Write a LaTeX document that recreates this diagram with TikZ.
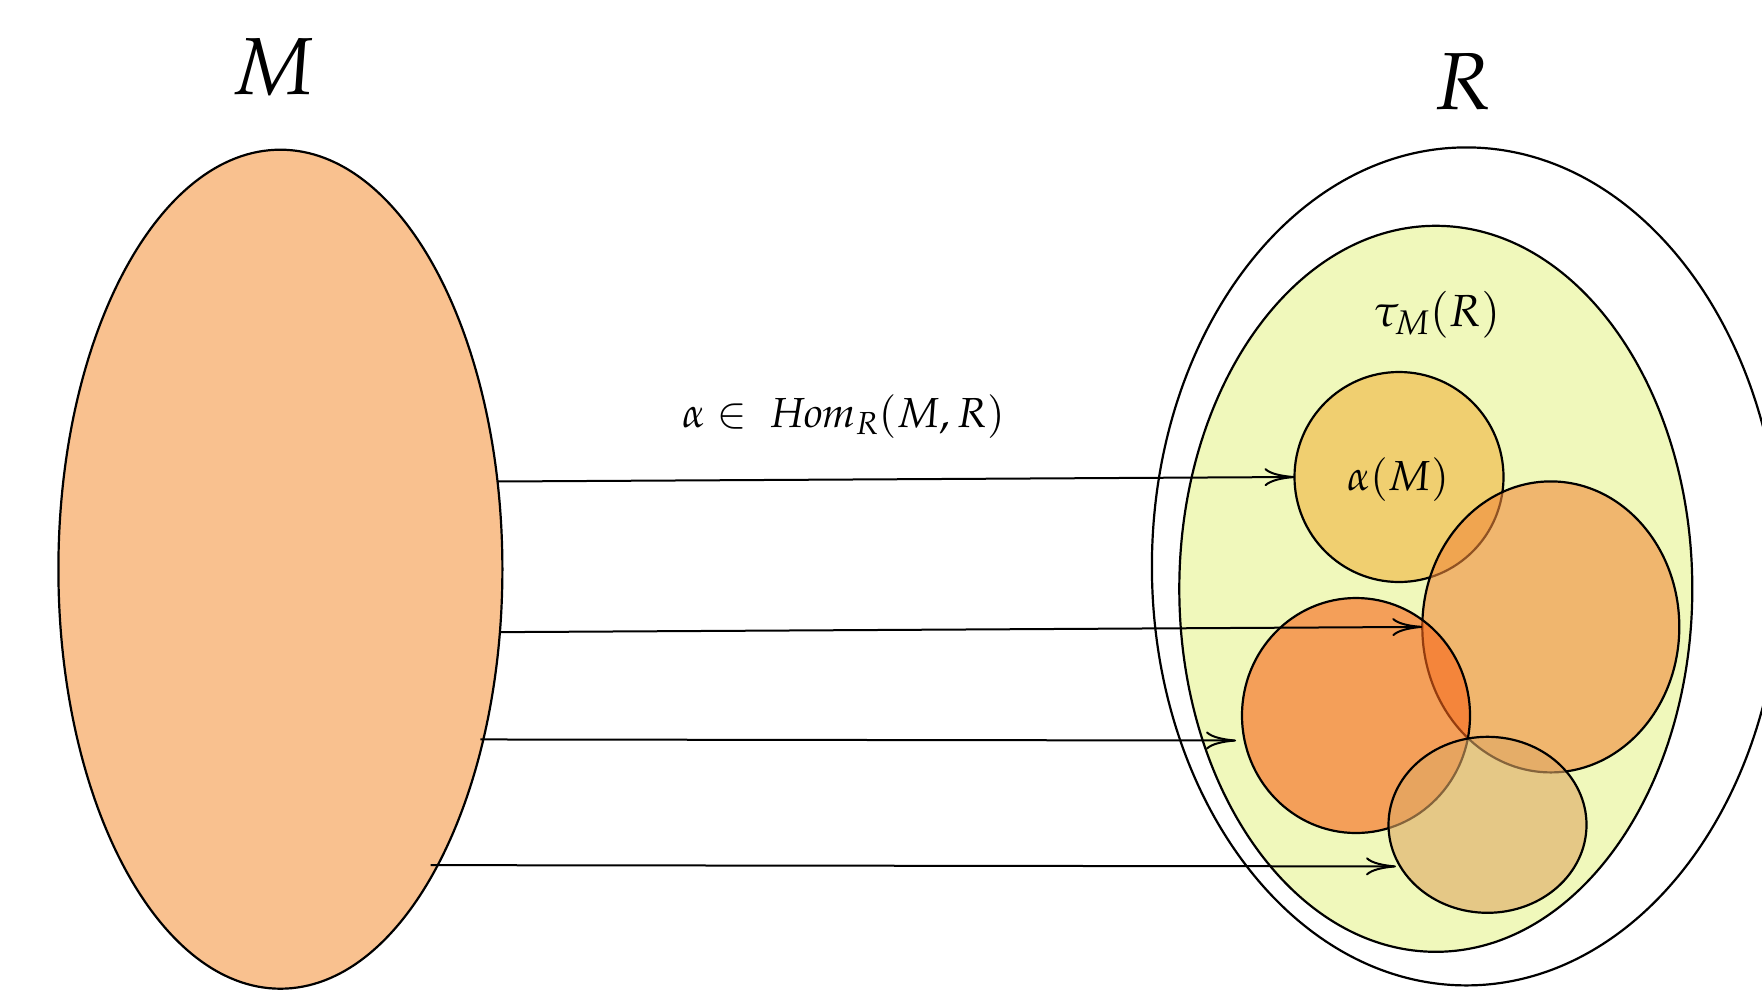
\documentclass[tikz,border=0pt]{standalone}
\usepackage{mathpazo}
\usetikzlibrary{shapes.geometric,arrows.meta,calc}
\definecolor{peach}{RGB}{249,193,143}
\definecolor{lime}{RGB}{240,248,187}
\definecolor{gold}{RGB}{240,181,62}
\definecolor{orangeR}{RGB}{240,138,59}
\definecolor{orangeL}{RGB}{248,101,25}
\definecolor{tan}{RGB}{223,168,100}
\begin{document}
\begin{tikzpicture}[x=1pt,y=-1pt,
  setshape/.style={ellipse, draw=black, line width=2.2pt, inner sep=0pt, outer sep=0pt},
  sub/.style={setshape, fill opacity=0.6},
  mapto/.style={line width=2pt, -{To[length=30pt,width=18pt]}},
  lbl/.style={inner sep=0pt, outer sep=0pt}]
\useasboundingbox (0,0) rectangle (1762,989);
% sets
\node[setshape, fill=peach, minimum width=444pt, minimum height=839pt] (M) at (280.4,569.2) {};
\node[setshape, fill=white, minimum width=629pt, minimum height=838pt] (R) at (1466.4,566.4) {};
\node[setshape, fill=lime, minimum width=513pt, minimum height=726pt] (T) at (1435.8,588.8) {};
\node[sub, fill=gold, minimum width=209pt, minimum height=210pt] (A) at (1399,477) {};
\node[sub, fill=orangeR, minimum width=257pt, minimum height=291pt] (B) at (1550.8,626.9) {};
\node[sub, fill=orangeL, minimum width=228pt, minimum height=235pt] (C) at (1356,715.5) {};
\node[sub, fill=tan, minimum width=198pt, minimum height=176pt] (D) at (1487.5,824.8) {};
% labels
\node[lbl] (lM) at (273,67) {\fontsize{81}{90}\selectfont $M$};
\node[lbl] (lR) at (1463,82) {\fontsize{81}{90}\selectfont $R$};
\node[lbl, anchor=base] (lhom) at (843.5,427) {\fontsize{42}{50}\selectfont $\alpha\in\ \mathit{Hom}_R(M,R)$};
\node[lbl, anchor=base] (ltau) at (1437,326) {\fontsize{45}{52}\selectfont $\tau_M(R)$};
\node[lbl, anchor=base] (lalpha) at (1398,490) {\fontsize{42}{50}\selectfont $\alpha(M)$};
% free ends
\coordinate (e3) at (1236,740.5);
\coordinate (e4) at (1396,866.4);
% maps
\draw[mapto] (M.22.3) -- (A.west);
\draw[mapto] (M.-16.0) -- (B.west);
\draw[mapto] ($(M.-40.85)+(-3,0)$) -- (e3);
\draw[mapto] ($(M.-62.19)+(-7,0)$) -- (e4);
\end{tikzpicture}
\end{document}
